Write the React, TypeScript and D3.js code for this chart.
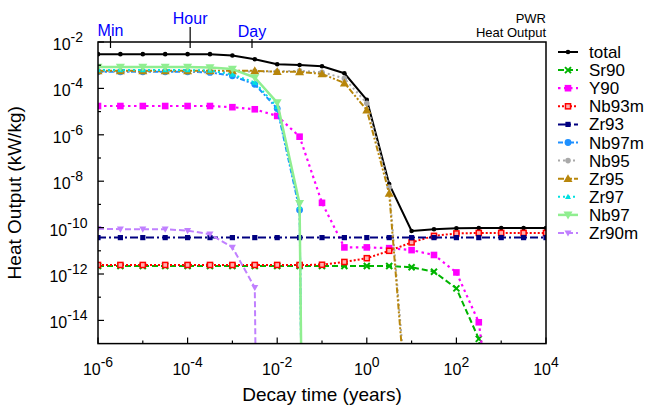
import React from "react";
import * as d3 from "d3";

// ---------- data ----------
const TIMES = [1e-6, 3.16e-6, 1e-5, 3.16e-5, 1e-4, 3.16e-4, 1e-3, 3.16e-3, 1e-2, 3.16e-2, 0.1, 0.316, 1, 3.16, 10, 31.6, 100, 316, 1000, 3160, 10000];

const TOTAL = [3.0e-3, 3.0e-3, 3.0e-3, 3.0e-3, 3.0e-3, 3.0e-3, 2.6e-3, 1.8e-3, 1.1e-3, 1.02e-3, 9.0e-4, 4.5e-4, 3.2e-5, 7.5e-9, 7.1e-11, 8.5e-11, 9.3e-11, 9.5e-11, 9.5e-11, 9.5e-11, 9.5e-11];
const SR90 = [2.2e-12, 2.2e-12, 2.2e-12, 2.2e-12, 2.2e-12, 2.2e-12, 2.2e-12, 2.2e-12, 2.2e-12, 2.2e-12, 2.2e-12, 2.2e-12, 2.2e-12, 2.2e-12, 1.95e-12, 1.26e-12, 2.4e-13, 1.6e-15, 8e-23, 1e-55, 1e-100];
const Y90 = [1.74e-5, 1.74e-5, 1.74e-5, 1.74e-5, 1.74e-5, 1.74e-5, 1.55e-5, 1.26e-5, 6.5e-6, 8.3e-7, 1.17e-9, 1.4e-11, 1.4e-11, 1.3e-11, 1.07e-11, 6.6e-12, 1.17e-12, 8.3e-15, 4e-22, 1e-55, 1e-100];
const NB93M = [2.45e-12, 2.45e-12, 2.45e-12, 2.45e-12, 2.45e-12, 2.45e-12, 2.45e-12, 2.45e-12, 2.45e-12, 2.45e-12, 2.5e-12, 3.3e-12, 4.8e-12, 1.0e-11, 2.3e-11, 4.4e-11, 5.6e-11, 5.9e-11, 5.9e-11, 5.9e-11, 5.9e-11];
const ZR93 = [3.7e-11, 3.7e-11, 3.7e-11, 3.7e-11, 3.7e-11, 3.7e-11, 3.7e-11, 3.7e-11, 3.7e-11, 3.7e-11, 3.7e-11, 3.7e-11, 3.7e-11, 3.7e-11, 3.7e-11, 3.7e-11, 3.7e-11, 3.7e-11, 3.7e-11, 3.7e-11, 3.7e-11];
const NB97M = [5.2e-4, 5.2e-4, 5.2e-4, 5.2e-4, 5.2e-4, 4.9e-4, 3.5e-4, 1.5e-4, 1.35e-5, 5.8e-10, 1e-100, 1e-100, 1e-100, 1e-100, 1e-100, 1e-100, 1e-100, 1e-100, 1e-100, 1e-100, 1e-100];
const NB95 = [5.4e-4, 5.4e-4, 5.4e-4, 5.4e-4, 5.4e-4, 5.4e-4, 5.4e-4, 5.4e-4, 5.4e-4, 5.7e-4, 5.0e-4, 2.7e-4, 2.3e-5, 5.5e-9, 1e-20, 1e-60, 1e-100, 1e-100, 1e-100, 1e-100, 1e-100];
const ZR95 = [5.75e-4, 5.75e-4, 5.75e-4, 5.75e-4, 5.75e-4, 5.75e-4, 5.75e-4, 5.75e-4, 5.25e-4, 5.2e-4, 4.2e-4, 1.7e-4, 1.17e-5, 3.0e-9, 4e-21, 1e-60, 1e-100, 1e-100, 1e-100, 1e-100, 1e-100];
const ZR97 = [6.2e-4, 6.2e-4, 6.2e-4, 6.2e-4, 6.2e-4, 5.9e-4, 4.0e-4, 1.8e-4, 1.6e-5, 7.9e-10, 1e-100, 1e-100, 1e-100, 1e-100, 1e-100, 1e-100, 1e-100, 1e-100, 1e-100, 1e-100, 1e-100];
const NB97 = [8.3e-4, 8.3e-4, 8.3e-4, 8.3e-4, 8.3e-4, 7.9e-4, 6.8e-4, 2.95e-4, 2.45e-5, 1.1e-9, 1e-100, 1e-100, 1e-100, 1e-100, 1e-100, 1e-100, 1e-100, 1e-100, 1e-100, 1e-100, 1e-100];
const ZR90M = [9.0e-11, 8.5e-11, 8.5e-11, 8.5e-11, 7.4e-11, 5.2e-11, 1.4e-11, 2.6e-13, 1e-100, 1e-100, 1e-100, 1e-100, 1e-100, 1e-100, 1e-100, 1e-100, 1e-100, 1e-100, 1e-100, 1e-100, 1e-100];

const SERIES_NAMES = ["total", "Sr90", "Y90", "Nb93m", "Zr93", "Nb97m", "Nb95", "Zr95", "Zr97", "Nb97", "Zr90m"];
const SERIES_VALUES = [TOTAL, SR90, Y90, NB93M, ZR93, NB97M, NB95, ZR95, ZR97, NB97, ZR90M];

const X_MAJOR = [1e-6, 1e-4, 1e-2, 1, 1e2, 1e4];
const X_MAJOR_EXP = ["-6", "-4", "-2", "0", "2", "4"];
const X_MINOR = [1e-5, 1e-3, 1e-1, 10, 1e3];
const Y_MAJOR = [1e-2, 1e-4, 1e-6, 1e-8, 1e-10, 1e-12, 1e-14];
const Y_MAJOR_EXP = ["-2", "-4", "-6", "-8", "-10", "-12", "-14"];
const Y_MINOR = [1e-3, 1e-5, 1e-7, 1e-9, 1e-11, 1e-13];

const TIME_MARK_LABELS = ["Min", "Hour", "Day"];
const TIME_MARK_VALUES = [1 / 525960, 1 / 8766, 1 / 365.25];

// ---------- styles ----------
type Marker = "dot" | "x" | "sq" | "sqOpen" | "circle" | "triUp" | "triDown";
const STYLES: { color: string; dash: string | null; width: number; marker: Marker; size: number; fill?: string }[] = [
  { color: "#000000", dash: null, width: 2, marker: "dot", size: 2.3 },
  { color: "#00b400", dash: "6,3", width: 2, marker: "x", size: 3 },
  { color: "#ff00ff", dash: "2.5,3.5", width: 2.2, marker: "sq", size: 3.3 },
  { color: "#ff0000", dash: "2,2", width: 2, marker: "sqOpen", size: 3.3, fill: "#ffb0b0" },
  { color: "#000080", dash: "8,3,2,3", width: 2, marker: "sq", size: 2.6 },
  { color: "#1e90ff", dash: "5,2,2,2", width: 2, marker: "circle", size: 3.4 },
  { color: "#a9a9a9", dash: "2,3", width: 2, marker: "circle", size: 2.8 },
  { color: "#b8860b", dash: "6,2,2,2,2,2", width: 2, marker: "triUp", size: 4.5 },
  { color: "#00e0e0", dash: "2,3", width: 2, marker: "triUp", size: 3 },
  { color: "#90ee90", dash: null, width: 2.5, marker: "triDown", size: 4.5 },
  { color: "#c080ff", dash: "6,3", width: 2, marker: "triDown", size: 3.5 },
];

const FONT = "'Liberation Sans', Arial, Helvetica, sans-serif";

const L = 98, R = 546, T = 42, B = 343.6;

function MarkerShape({ m, cx, cy, s, color, fill }: { m: Marker; cx: number; cy: number; s: number; color: string; fill?: string }) {
  switch (m) {
    case "dot":
      return <circle cx={cx} cy={cy} r={s} fill={color} />;
    case "x":
      return (
        <path d={`M${cx - s},${cy - s}L${cx + s},${cy + s}M${cx - s},${cy + s}L${cx + s},${cy - s}`} stroke={color} strokeWidth={2} fill="none" />
      );
    case "sq":
      return <rect x={cx - s} y={cy - s} width={2 * s} height={2 * s} fill={color} />;
    case "sqOpen":
      return <rect x={cx - s + 0.75} y={cy - s + 0.75} width={2 * s - 1.5} height={2 * s - 1.5} fill={fill || "white"} stroke={color} strokeWidth={1.5} />;
    case "circle":
      return <circle cx={cx} cy={cy} r={s} fill={color} />;
    case "triUp":
      return <path d={`M${cx},${cy - s}L${cx + s},${cy + s * 0.75}L${cx - s},${cy + s * 0.75}Z`} fill={color} />;
    case "triDown":
      return <path d={`M${cx},${cy + s}L${cx + s},${cy - s * 0.75}L${cx - s},${cy - s * 0.75}Z`} fill={color} />;
  }
  return null;
}

const TIME_MARK_LAYOUT: Record<string, { labelY: number; tickTop: number }> = {
  Min: { labelY: 36, tickTop: 36 },
  Hour: { labelY: 24, tickTop: 27 },
  Day: { labelY: 37, tickTop: 39 },
};

export default function App() {
  const x = d3.scaleLog().domain([1e-6, 1e4]).range([L, R]);
  const y = d3.scaleLog().domain([1e-15, 1e-2]).range([B, T]);
  const line = d3
    .line<[number, number]>()
    .x((d) => x(d[0]))
    .y((d) => y(d[1]));

  const legendX0 = 558, legendX1 = 578, legendTextX = 589, legendY0 = 52, legendDY = 18.1;

  return (
    <svg width={648} height={408} style={{ position: "absolute", left: 0, top: 0, background: "white" }} fontFamily={FONT}>
      <defs>
        <clipPath id="plot">
          <rect x={L} y={T} width={R - L} height={B - T} />
        </clipPath>
      </defs>
      <rect x={0} y={0} width={648} height={408} fill="white" />

      {/* series */}
      <g clipPath="url(#plot)">
        {SERIES_VALUES.map((vals, i) => {
          const st = STYLES[i];
          const pts: [number, number][] = TIMES.map((t, k) => [t, vals[k]]);
          return (
            <g key={SERIES_NAMES[i]}>
              <path d={line(pts) || ""} fill="none" stroke={st.color} strokeWidth={st.width} strokeDasharray={st.dash || undefined} strokeLinejoin="round" />
              {pts.map((p, k) => {
                const cy = y(p[1]);
                if (cy > B + 10) return null;
                return <MarkerShape key={k} m={st.marker} cx={x(p[0])} cy={cy} s={st.size} color={st.color} fill={st.fill} />;
              })}
            </g>
          );
        })}
      </g>

      {/* frame */}
      <rect x={L} y={T} width={R - L} height={B - T} fill="none" stroke="#000" strokeWidth={1.5} />

      {/* x ticks */}
      {X_MAJOR.map((v, i) => (
        <g key={"xm" + i}>
          <line x1={x(v)} x2={x(v)} y1={B} y2={B - 6} stroke="#000" strokeWidth={1.2} />
          <text x={x(v)} y={375} textAnchor="middle" fontSize={16} fill="#000">
            <tspan>10</tspan>
            <tspan dy={-8} fontSize={14}>{X_MAJOR_EXP[i]}</tspan>
          </text>
        </g>
      ))}
      {X_MINOR.map((v, i) => (
        <line key={"xn" + i} x1={x(v)} x2={x(v)} y1={B} y2={B - 3} stroke="#000" strokeWidth={1.2} />
      ))}

      {/* y ticks */}
      {Y_MAJOR.map((v, i) => (
        <g key={"ym" + i}>
          <line x1={L} x2={L + 6} y1={y(v)} y2={y(v)} stroke="#000" strokeWidth={1.2} />
          <text x={83 + 4.5 * (Y_MAJOR_EXP[i].length - 2)} y={y(v) + 8} textAnchor="end" fontSize={16} fill="#000">
            <tspan>10</tspan>
            <tspan dy={-8} fontSize={14}>{Y_MAJOR_EXP[i]}</tspan>
          </text>
        </g>
      ))}
      {Y_MINOR.map((v, i) => (
        <line key={"yn" + i} x1={L} x2={L + 3} y1={y(v)} y2={y(v)} stroke="#000" strokeWidth={1.2} />
      ))}

      {/* top time marks */}
      {TIME_MARK_LABELS.map((lab, i) => {
        const xv = x(TIME_MARK_VALUES[i]);
        const lay = TIME_MARK_LAYOUT[lab];
        return (
          <g key={lab}>
            <line x1={xv} x2={xv} y1={lay.tickTop} y2={T + 6} stroke="#000" strokeWidth={1.2} />
            <text x={xv} y={lay.labelY} textAnchor="middle" fontSize={16} fill="#0000ff">{lab}</text>
          </g>
        );
      })}

      {/* top-right title */}
      <text x={R} y={23} textAnchor="end" fontSize={13} fill="#000">PWR</text>
      <text x={R} y={37} textAnchor="end" fontSize={13} fill="#000">Heat Output</text>

      {/* axis titles */}
      <text x={(L + R) / 2} y={401} textAnchor="middle" fontSize={19} fill="#000">Decay time (years)</text>
      <text transform={`translate(21,${(T + B) / 2}) rotate(-90)`} textAnchor="middle" fontSize={19} fill="#000">Heat Output (kW/kg)</text>

      {/* legend */}
      {SERIES_NAMES.map((name, i) => {
        const st = STYLES[i];
        const ly = legendY0 + i * legendDY;
        return (
          <g key={"lg" + name}>
            <line x1={legendX0} x2={legendX1} y1={ly} y2={ly} stroke={st.color} strokeWidth={st.width} strokeDasharray={st.dash || undefined} />
            <MarkerShape m={st.marker} cx={(legendX0 + legendX1) / 2} cy={ly} s={st.size} color={st.color} fill={st.fill} />
            <text x={legendTextX} y={ly + 6} fontSize={17} fill="#000">{name}</text>
          </g>
        );
      })}
    </svg>
  );
}
